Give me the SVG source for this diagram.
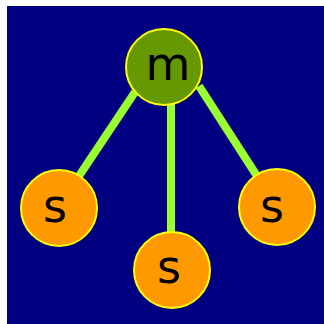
<svg xmlns="http://www.w3.org/2000/svg" width="324" height="324" viewBox="0 0 324 324">
<style>
.lbl{font-family:"DejaVu Sans",Verdana,sans-serif;font-size:46px;fill:#000;text-anchor:middle}
.s{fill:#ff9900;stroke:#ffff00;stroke-width:2}
.m{fill:#669900;stroke:#ffff00;stroke-width:2}
.e{stroke:#99ff33;stroke-width:8;stroke-linecap:butt}
</style>
<rect x="0" y="0" width="324" height="324" fill="#ffffff"/>
<rect x="7" y="6" width="317" height="318" fill="#000080"/>
<g id="connectors">
<line class="e" x1="135" y1="92" x2="79" y2="176"/>
<line class="e" x1="171" y1="100" x2="171" y2="234"/>
<line class="e" x1="199" y1="86" x2="257" y2="176"/>
</g>
<g id="m">
<circle class="m" cx="164" cy="67" r="38"/>
<text class="lbl" x="168" y="80">m</text>
</g>
<g id="s1">
<circle class="s" cx="59" cy="208" r="38"/>
<text class="lbl" x="55" y="222">s</text>
</g>
<g id="s2">
<circle class="s" cx="172" cy="270" r="38"/>
<text class="lbl" x="169" y="283">s</text>
</g>
<g id="s3">
<circle class="s" cx="277" cy="207" r="38"/>
<text class="lbl" x="272" y="222">s</text>
</g>
</svg>
